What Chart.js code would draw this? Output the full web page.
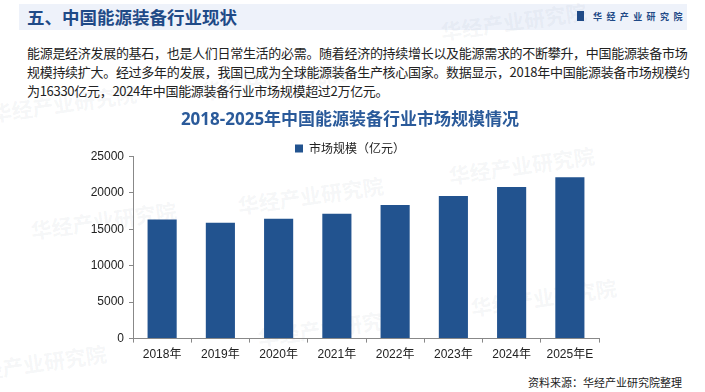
<!DOCTYPE html>
<html>
<head>
<meta charset="utf-8">
<script src="https://cdn.jsdelivr.net/npm/chart.js@4/dist/chart.umd.min.js"></script>
<style>
  body { margin: 0; width: 705px; height: 392px; background: #fff; position: relative; overflow: hidden;
         font-family: "Noto Sans CJK SC", "Noto Sans", sans-serif; color: #222; }
  #band { position: absolute; left: 19px; top: 4px; width: 668px; height: 26px; background: #eef2fa; }
  #head { position: absolute; left: 27px; top: 5px; font-size: 17.5px; font-weight: bold; color: #1f4a87; line-height: 24px; }
  #logo { position: absolute; left: 577px; top: 11px; font-size: 9px; font-weight: bold; color: #1f4a87; letter-spacing: 4.4px; line-height: 12px; }
  #logo i { display: inline-block; width: 7px; height: 10px; background: #1f4a87; vertical-align: -1px; margin-right: 9px; }
  #intro { position: absolute; left: 27px; top: 43px; width: 658px; font-size: 13px; line-height: 19px;
           font-family: "Liberation Sans Narrow", "Noto Sans CJK SC", sans-serif; letter-spacing: -0.3px; }
  #intro div { white-space: nowrap; }
  #intro .j { text-align: justify; text-align-last: justify; }
  #src { position: absolute; right: 23px; top: 374px; font-size: 11px; color: #222; }
  #box { position: absolute; left: 0; top: 100px; width: 705px; height: 270px; }
  .wm { position: absolute; font-size: 21px; font-weight: bold; color: rgba(120,135,155,0.08); transform: rotate(-8deg); white-space: nowrap; }
</style>
</head>
<body>
<div id="band"></div>
<div class="wm" style="left:440px;top:6px;">华经产业研究院</div>
<div class="wm" style="left:200px;top:66px;">华经产业研究院</div>
<div class="wm" style="left:-10px;top:88px;">华经产业研究院</div>
<div class="wm" style="left:237px;top:180px;">华经产业研究院</div>
<div class="wm" style="left:448px;top:150px;">华经产业研究院</div>
<div class="wm" style="left:30px;top:205px;">华经产业研究院</div>
<div class="wm" style="left:470px;top:282px;">华经产业研究院</div>
<div class="wm" style="left:257px;top:312px;">华经产业研究院</div>
<div class="wm" style="left:-40px;top:348px;">华经产业研究院</div>
<div id="head">五、中国能源装备行业现状</div>
<div id="logo"><i></i>华经产业研究院</div>
<div id="intro">
  <div class="j">能源是经济发展的基石，也是人们日常生活的必需。随着经济的持续增长以及能源需求的不断攀升，中国能源装备市场</div>
  <div class="j">规模持续扩大。经过多年的发展，我国已成为全球能源装备生产核心国家。数据显示，2018年中国能源装备市场规模约</div>
  <div>为16330亿元，2024年中国能源装备行业市场规模超过2万亿元。</div>
</div>
<div id="box"><canvas id="chart"></canvas></div>
<div id="src">资料来源：华经产业研究院整理</div>
<script>
// 数据
const years = ['2018年', '2019年', '2020年', '2021年', '2022年', '2023年', '2024年', '2025年E'];
const marketSize = [16330, 15900, 16440, 17120, 18340, 19560, 20790, 22150];
const seriesName = '市场规模（亿元）';
const chartTitle = '2018-2025年中国能源装备行业市场规模情况';

const tickFont = { family: '"Liberation Sans", "Noto Sans CJK SC", sans-serif', size: 12 };

// 标题和图例居中在 x=350（原图不是以绘图区为中心）
const centerBoxes = {
  id: 'centerBoxes',
  afterLayout(chart) {
    [chart.titleBlock, chart.legend].forEach(b => {
      if (b) { b.left = 101; b.right = 599; b.width = 498; }
    });
  }
};

const ctx = document.getElementById('chart').getContext('2d');
new Chart(ctx, {
  type: 'bar',
  data: {
    labels: years,
    datasets: [{
      label: seriesName,
      data: marketSize,
      backgroundColor: '#22538f',
      categoryPercentage: 1,
      barPercentage: 0.5
    }]
  },
  options: {
    responsive: true,
    maintainAspectRatio: false,
    animation: false,
    layout: { padding: { left: 80, right: 106, top: 0, bottom: 3 } },
    plugins: {
      title: {
        display: true,
        text: chartTitle,
        color: '#2a5a9a',
        font: { family: '"Open Sans", "Noto Sans CJK SC", sans-serif', size: 17, weight: 'bold' },
        padding: { top: 10, bottom: 10 }
      },
      legend: {
        display: true,
        maxHeight: 16,
        labels: {
          boxWidth: 8, boxHeight: 8, padding: 2,
          color: '#222',
          font: { family: '"Noto Sans CJK SC", sans-serif', size: 12 }
        }
      },
      tooltip: { enabled: false }
    },
    scales: {
      x: {
        grid: { drawOnChartArea: false, drawTicks: true, tickLength: 4, color: '#888' },
        border: { color: '#888' },
        ticks: { color: '#222', font: tickFont, padding: 5, maxRotation: 0 }
      },
      y: {
        min: 0, max: 25000,
        afterFit: s => { s.width = 53; },
        grid: { drawOnChartArea: false, drawTicks: true, tickLength: 4, color: '#888' },
        border: { color: '#888' },
        ticks: { stepSize: 5000, color: '#222', font: tickFont, padding: 5, callback: v => String(v) }
      }
    }
  },
  plugins: [centerBoxes]
});
</script>
</body>
</html>
